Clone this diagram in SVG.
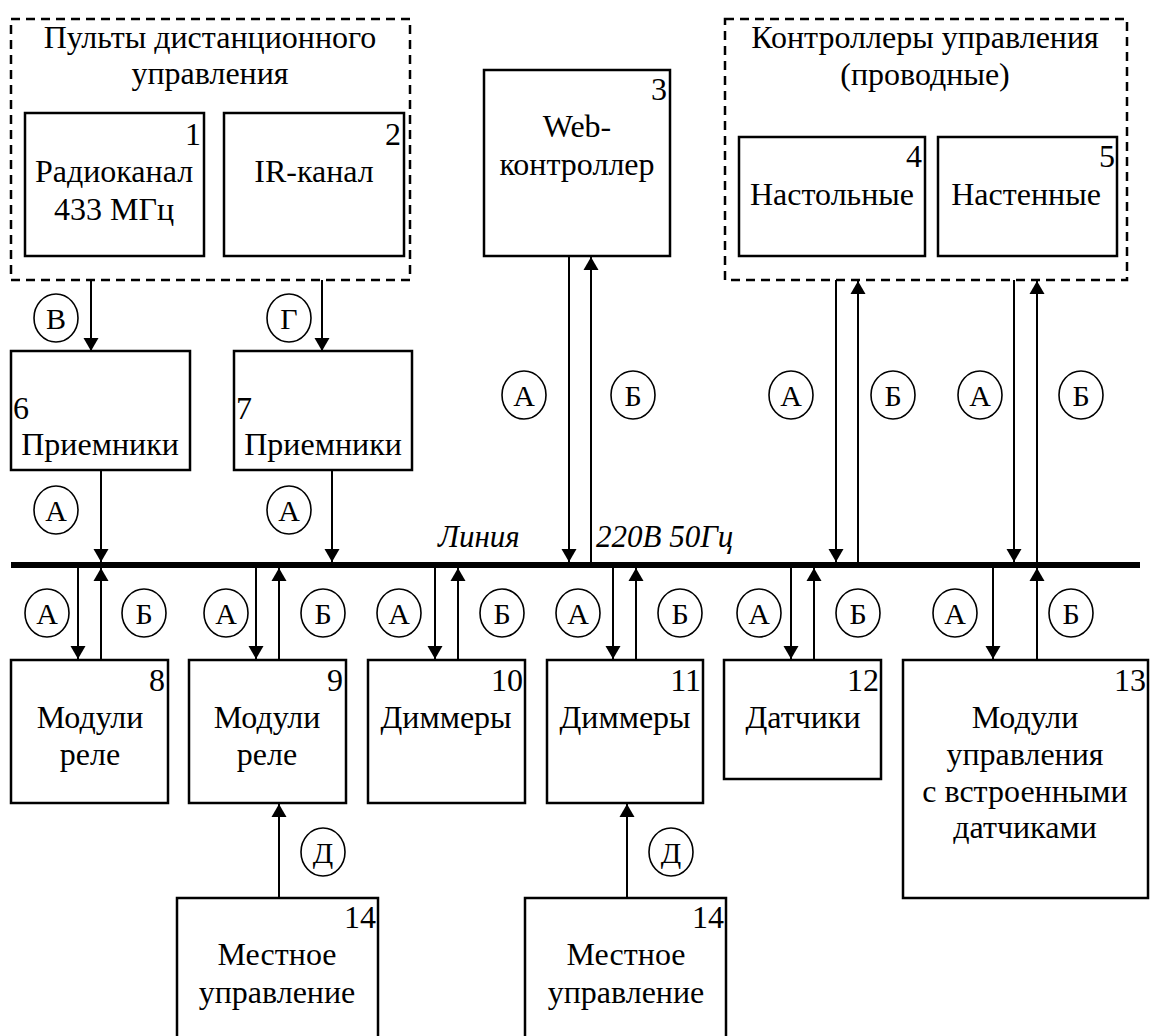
<svg xmlns="http://www.w3.org/2000/svg" width="1150" height="1036" viewBox="0 0 1150 1036" font-family="'Liberation Serif', 'Times New Roman', serif">
<defs>
<style>
text{font-family:'Liberation Serif','Times New Roman',serif;font-size:32px;fill:#000}
.c{text-anchor:middle}
.r{text-anchor:end}
.lb{font-size:30px}
.box{fill:#fff;stroke:#000;stroke-width:2.5}
.dash{fill:none;stroke:#000;stroke-width:2.5;stroke-dasharray:9 6}
.arr{stroke:#000;stroke-width:2;fill:none;marker-end:url(#ah)}
.cir{fill:#fff;stroke:#000;stroke-width:1.6}
.it{font-style:italic;font-size:31px}
</style>
<marker id="ah" markerUnits="userSpaceOnUse" markerWidth="14" markerHeight="16" refX="13" refY="8" orient="auto">
<path d="M0,0.5 L13,8 L0,15.5 z" fill="#000"/>
</marker>
</defs>
<rect width="1150" height="1036" fill="#fff"/>

<g id="group-remote">
<rect class="dash" x="11" y="19" width="399" height="261"/>
<text class="c" x="210" y="48">Пульты дистанционного</text>
<text class="c" x="210" y="84">управления</text>
</g>
<g id="group-wired">
<rect class="dash" x="725" y="19" width="402" height="261"/>
<text class="c" x="925" y="48">Контроллеры управления</text>
<text class="c" x="925" y="85">(проводные)</text>
</g>

<g id="node1"><rect class="box" x="25" y="113" width="179" height="143"/><text class="r" x="201" y="145">1</text><text class="c" x="114" y="182">Радиоканал</text><text class="c" x="114" y="220">433 МГц</text></g>
<g id="node2"><rect class="box" x="224" y="113" width="180" height="143"/><text class="r" x="401" y="145">2</text><text class="c" x="314" y="182">IR-канал</text></g>
<g id="node3"><rect class="box" x="484" y="70" width="186" height="186"/><text class="r" x="667" y="100">3</text><text class="c" x="577" y="137">Web-</text><text class="c" x="577" y="175">контроллер</text></g>
<g id="node4"><rect class="box" x="739" y="137" width="186" height="119"/><text class="r" x="922" y="167">4</text><text class="c" x="832" y="205">Настольные</text></g>
<g id="node5"><rect class="box" x="938" y="137" width="179" height="119"/><text class="r" x="1115" y="167">5</text><text class="c" x="1026" y="205">Настенные</text></g>
<g id="node6"><rect class="box" x="11" y="351" width="179" height="119"/><text x="13" y="419">6</text><text class="c" x="100" y="455">Приемники</text></g>
<g id="node7"><rect class="box" x="234" y="351" width="178" height="119"/><text x="236" y="419">7</text><text class="c" x="323" y="455">Приемники</text></g>
<g id="node8"><rect class="box" x="11" y="660" width="157" height="143"/><text class="r" x="165" y="691">8</text><text class="c" x="90" y="728">Модули</text><text class="c" x="90" y="765">реле</text></g>
<g id="node9"><rect class="box" x="189" y="660" width="157" height="143"/><text class="r" x="343" y="691">9</text><text class="c" x="267" y="728">Модули</text><text class="c" x="267" y="765">реле</text></g>
<g id="node10"><rect class="box" x="368" y="660" width="157" height="143"/><text class="r" x="523" y="691">10</text><text class="c" x="446" y="728">Диммеры</text></g>
<g id="node11"><rect class="box" x="547" y="660" width="156" height="143"/><text class="r" x="701" y="691">11</text><text class="c" x="625" y="728">Диммеры</text></g>
<g id="node12"><rect class="box" x="724" y="660" width="157" height="119"/><text class="r" x="879" y="691">12</text><text class="c" x="803" y="728">Датчики</text></g>
<g id="node13"><rect class="box" x="903" y="660" width="245" height="238"/><text class="r" x="1146" y="691">13</text><text class="c" x="1025" y="728">Модули</text><text class="c" x="1025" y="765">управления</text><text class="c" x="1025" y="802">с встроенными</text><text class="c" x="1025" y="838">датчиками</text></g>
<g id="node14a"><rect class="box" x="177" y="898" width="201" height="150"/><text class="r" x="376" y="928">14</text><text class="c" x="277" y="965">Местное</text><text class="c" x="277" y="1003">управление</text></g>
<g id="node14b"><rect class="box" x="525" y="898" width="201" height="150"/><text class="r" x="724" y="928">14</text><text class="c" x="626" y="965">Местное</text><text class="c" x="626" y="1003">управление</text></g>

<g id="bus">
<line x1="11" y1="565" x2="1140" y2="565" stroke="#000" stroke-width="6"/>
<text class="it" x="438" y="547">Линия</text>
<text class="it" x="596" y="547">220В 50Гц</text>
</g>

<g id="connectors">
<line class="arr" x1="91" y1="280" x2="91" y2="351"/>
<line class="arr" x1="322" y1="280" x2="322" y2="351"/>
<line class="arr" x1="101" y1="470" x2="101" y2="562"/>
<line class="arr" x1="332" y1="470" x2="332" y2="562"/>
<line class="arr" x1="569" y1="256" x2="569" y2="562"/>
<line class="arr" x1="591" y1="562" x2="591" y2="257"/>
<line class="arr" x1="836" y1="280" x2="836" y2="562"/>
<line class="arr" x1="858" y1="562" x2="858" y2="281"/>
<line class="arr" x1="1014" y1="280" x2="1014" y2="562"/>
<line class="arr" x1="1037" y1="562" x2="1037" y2="281"/>
<line class="arr" x1="78" y1="568" x2="78" y2="659"/>
<line class="arr" x1="101" y1="660" x2="101" y2="568"/>
<line class="arr" x1="256" y1="568" x2="256" y2="659"/>
<line class="arr" x1="279" y1="660" x2="279" y2="568"/>
<line class="arr" x1="435" y1="568" x2="435" y2="659"/>
<line class="arr" x1="458" y1="660" x2="458" y2="568"/>
<line class="arr" x1="613" y1="568" x2="613" y2="659"/>
<line class="arr" x1="636" y1="660" x2="636" y2="568"/>
<line class="arr" x1="791" y1="568" x2="791" y2="659"/>
<line class="arr" x1="814" y1="660" x2="814" y2="568"/>
<line class="arr" x1="993" y1="568" x2="993" y2="659"/>
<line class="arr" x1="1037" y1="660" x2="1037" y2="568"/>
<line class="arr" x1="279" y1="898" x2="279" y2="804"/>
<line class="arr" x1="627" y1="898" x2="627" y2="804"/>
</g>

<g id="labels">
<ellipse class="cir" cx="56" cy="318" rx="22" ry="24"/><text class="c lb" x="56" y="329">В</text>
<ellipse class="cir" cx="289" cy="318" rx="22" ry="24"/><text class="c lb" x="289" y="329">Г</text>
<ellipse class="cir" cx="56" cy="510" rx="22" ry="24"/><text class="c lb" x="56" y="521">А</text>
<ellipse class="cir" cx="289" cy="510" rx="22" ry="24"/><text class="c lb" x="289" y="521">А</text>
<ellipse class="cir" cx="524" cy="395" rx="22" ry="24"/><text class="c lb" x="524" y="406">А</text>
<ellipse class="cir" cx="633" cy="395" rx="22" ry="24"/><text class="c lb" x="633" y="406">Б</text>
<ellipse class="cir" cx="791" cy="395" rx="22" ry="24"/><text class="c lb" x="791" y="406">А</text>
<ellipse class="cir" cx="893" cy="395" rx="22" ry="24"/><text class="c lb" x="893" y="406">Б</text>
<ellipse class="cir" cx="980" cy="395" rx="22" ry="24"/><text class="c lb" x="980" y="406">А</text>
<ellipse class="cir" cx="1081" cy="395" rx="22" ry="24"/><text class="c lb" x="1081" y="406">Б</text>
<ellipse class="cir" cx="47" cy="613" rx="22" ry="24"/><text class="c lb" x="47" y="624">А</text>
<ellipse class="cir" cx="144" cy="613" rx="22" ry="24"/><text class="c lb" x="144" y="624">Б</text>
<ellipse class="cir" cx="226" cy="613" rx="22" ry="24"/><text class="c lb" x="226" y="624">А</text>
<ellipse class="cir" cx="323" cy="613" rx="22" ry="24"/><text class="c lb" x="323" y="624">Б</text>
<ellipse class="cir" cx="399" cy="613" rx="22" ry="24"/><text class="c lb" x="399" y="624">А</text>
<ellipse class="cir" cx="502" cy="613" rx="22" ry="24"/><text class="c lb" x="502" y="624">Б</text>
<ellipse class="cir" cx="578" cy="613" rx="22" ry="24"/><text class="c lb" x="578" y="624">А</text>
<ellipse class="cir" cx="680" cy="613" rx="22" ry="24"/><text class="c lb" x="680" y="624">Б</text>
<ellipse class="cir" cx="759" cy="613" rx="22" ry="24"/><text class="c lb" x="759" y="624">А</text>
<ellipse class="cir" cx="858" cy="613" rx="22" ry="24"/><text class="c lb" x="858" y="624">Б</text>
<ellipse class="cir" cx="955" cy="613" rx="22" ry="24"/><text class="c lb" x="955" y="624">А</text>
<ellipse class="cir" cx="1071" cy="613" rx="22" ry="24"/><text class="c lb" x="1071" y="624">Б</text>
<ellipse class="cir" cx="323" cy="852" rx="22" ry="24"/><text class="c lb" x="323" y="863">Д</text>
<ellipse class="cir" cx="671" cy="852" rx="22" ry="24"/><text class="c lb" x="671" y="863">Д</text>
</g>
</svg>
